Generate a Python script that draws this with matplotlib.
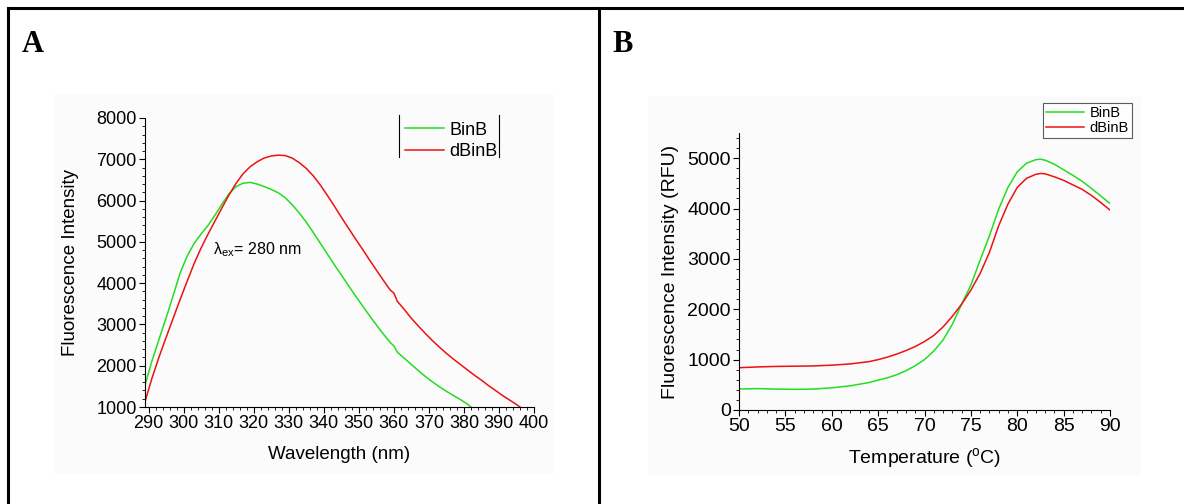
import numpy as np
import matplotlib.pyplot as plt
from matplotlib.ticker import MultipleLocator
from matplotlib.lines import Line2D

plt.rcParams['font.family'] = ['Liberation Sans', 'DejaVu Sans']
plt.rcParams['mathtext.fontset'] = 'custom'
plt.rcParams['mathtext.rm'] = 'Liberation Sans'

# Panel A: emission spectra
wl_g = [289, 291, 293, 295, 297, 299, 301, 303, 305, 307, 309, 311, 313, 315, 317,
        319, 321, 323, 325, 327, 329, 331, 333, 335, 337, 339, 341, 343, 345, 347,
        349, 351, 353, 355, 357, 359, 360, 361, 363, 365, 367, 369, 371, 373, 375,
        377, 379, 381, 382]
binb_a = [1530, 2120, 2640, 3150, 3690, 4240, 4650, 4960, 5190, 5400, 5650, 5920,
          6170, 6340, 6420, 6440, 6400, 6340, 6270, 6190, 6070, 5900, 5700, 5480,
          5230, 4970, 4710, 4450, 4200, 3950, 3700, 3460, 3220, 2990, 2770, 2560,
          2480, 2330, 2180, 2030, 1880, 1740, 1610, 1490, 1380, 1280, 1180, 1070, 1000]
wl_r = [289, 291, 293, 295, 297, 299, 301, 303, 305, 307, 309, 311, 313, 315, 317,
        319, 321, 323, 325, 327, 329, 331, 333, 335, 337, 339, 341, 343, 345, 347,
        349, 351, 353, 355, 357, 359, 360, 361, 363, 365, 367, 369, 371, 373, 375,
        377, 379, 381, 383, 385, 387, 389, 391, 393, 395, 396]
dbinb_a = [1130, 1700, 2210, 2680, 3140, 3600, 4040, 4470, 4850, 5190, 5510, 5830,
           6140, 6420, 6650, 6820, 6940, 7030, 7080, 7100, 7090, 7030, 6920, 6780,
           6600, 6380, 6130, 5870, 5600, 5340, 5080, 4830, 4570, 4320, 4070, 3830,
           3760, 3560, 3360, 3150, 2960, 2780, 2610, 2450, 2300, 2160, 2030, 1900,
           1770, 1650, 1520, 1400, 1280, 1170, 1060, 1000]

# Panel B: thermal melt
temp_g = [50, 52, 54, 56, 58, 60, 62, 64, 66, 67, 68, 69, 70, 71, 72, 73, 74, 75,
          76, 77, 78, 79, 80, 81, 82, 82.5, 83, 84, 85, 86, 87, 88, 89, 90]
binb_b = [417, 425, 415, 410, 415, 440, 480, 545, 640, 700, 780, 880, 1000, 1170,
          1390, 1700, 2100, 2480, 2976, 3460, 3990, 4420, 4730, 4900, 4970, 4980,
          4960, 4880, 4770, 4660, 4540, 4400, 4250, 4100]
temp_r = [50, 52, 54, 56, 58, 60, 62, 64, 65, 66, 67, 68, 69, 70, 71, 72, 73, 74,
          75, 76, 77, 78, 79, 80, 81, 82, 82.5, 83, 84, 85, 86, 87, 88, 89, 90]
dbinb_b = [840, 855, 865, 870, 875, 890, 915, 960, 1000, 1050, 1110, 1180, 1260,
           1360, 1480, 1650, 1860, 2100, 2380, 2712, 3130, 3660, 4090, 4420, 4600,
           4680, 4696, 4690, 4630, 4560, 4470, 4380, 4260, 4120, 3970]

green = '#22dd22'
red = '#ee1111'

fig = plt.figure(figsize=(11.84, 5.04), dpi=100)

# table frame
fig.add_artist(Line2D([8/1184, 1], [1-8/504, 1-8/504], color='black', lw=2.2))
fig.add_artist(Line2D([8/1184, 8/1184], [0, 1-8/504], color='black', lw=2.2))
fig.add_artist(Line2D([599/1184, 599/1184], [0, 1-8/504], color='black', lw=2.2))

# faint plot backgrounds
for (x0, y0, x1, y1) in [(54, 95, 553, 472), (648, 97, 1140, 474)]:
    fig.patches.append(plt.Rectangle((x0/1184, 1-y1/504), (x1-x0)/1184, (y1-y0)/504,
                                     transform=fig.transFigure, color='#fbfbfb', zorder=-5))

fig.text(22/1184, 1-44/504, 'A', fontsize=22, fontweight='bold',
         family='Liberation Serif', va='center')
fig.text(612/1184, 1-44/504, 'B', fontsize=22, fontweight='bold',
         family='Liberation Serif', va='center')


def style(ax, size):
    ax.set_facecolor('none')
    for s in ['top', 'right']:
        ax.spines[s].set_visible(False)
    ax.tick_params(which='major', direction='out', length=4, labelsize=size, pad=2)
    ax.tick_params(which='minor', direction='out', length=2.5)


axA = fig.add_axes([145/1184, 97/504, 389/1184, 289/504])
axA.plot(wl_g, binb_a, color=green, lw=1.1, label='BinB')
axA.plot(wl_r, dbinb_a, color=red, lw=1.1, label='dBinB')
axA.set_xlim(289, 400)
axA.set_ylim(1000, 8000)
axA.xaxis.set_major_locator(MultipleLocator(10))
axA.xaxis.set_minor_locator(MultipleLocator(2))
axA.yaxis.set_major_locator(MultipleLocator(1000))
axA.yaxis.set_minor_locator(MultipleLocator(200))
style(axA, 13)
axA.set_xlabel('Wavelength (nm)', fontsize=13.5, labelpad=10)
axA.set_ylabel('Fluorescence Intensity', fontsize=13.5, labelpad=12)
axA.text(308.5, 4800, r'λ$_{\rm ex}$= 280 nm', fontsize=11.5, va='center')
legA = axA.legend(loc='upper left', bbox_to_anchor=((401-145)/389, 1.0), fontsize=13,
                  frameon=False, handlelength=2.2, handletextpad=0.3, borderpad=0.2,
                  labelspacing=0.25, borderaxespad=0)
# legend side bars
axA.add_line(Line2D([(399-145)/389]*2, [1-(115-118)/289, 1-(157-118)/289],
                    transform=axA.transAxes, color='black', lw=0.8, clip_on=False))
axA.add_line(Line2D([(499-145)/389]*2, [1-(115-118)/289, 1-(157-118)/289],
                    transform=axA.transAxes, color='black', lw=0.8, clip_on=False))

axB = fig.add_axes([739/1184, 94/504, 371/1184, 277/504])
axB.plot(temp_g, binb_b, color=green, lw=1.1, label='BinB')
axB.plot(temp_r, dbinb_b, color=red, lw=1.1, label='dBinB')
axB.set_xlim(50, 90)
axB.set_ylim(0, 5500)
axB.xaxis.set_major_locator(MultipleLocator(5))
axB.xaxis.set_minor_locator(MultipleLocator(1))
axB.yaxis.set_major_locator(MultipleLocator(1000))
axB.yaxis.set_minor_locator(MultipleLocator(200))
axB.set_yticks(range(0, 5001, 1000))
style(axB, 14)
axB.set_xlabel('Temperature ($^{\\rm o}$C)', fontsize=14, labelpad=8)
axB.set_ylabel('Fluorescence Intensity (RFU)', fontsize=14, labelpad=6)
legB = axB.legend(loc='upper left', bbox_to_anchor=((1043-739)/371, 1+(133-103)/277),
                  fontsize=10.5, frameon=True, fancybox=False, edgecolor='#333333',
                  handlelength=2.6, handletextpad=0.4, borderpad=0.2, labelspacing=0.1,
                  borderaxespad=0)
legB.get_frame().set_linewidth(0.8)

fig.savefig('out.png', dpi=100)
